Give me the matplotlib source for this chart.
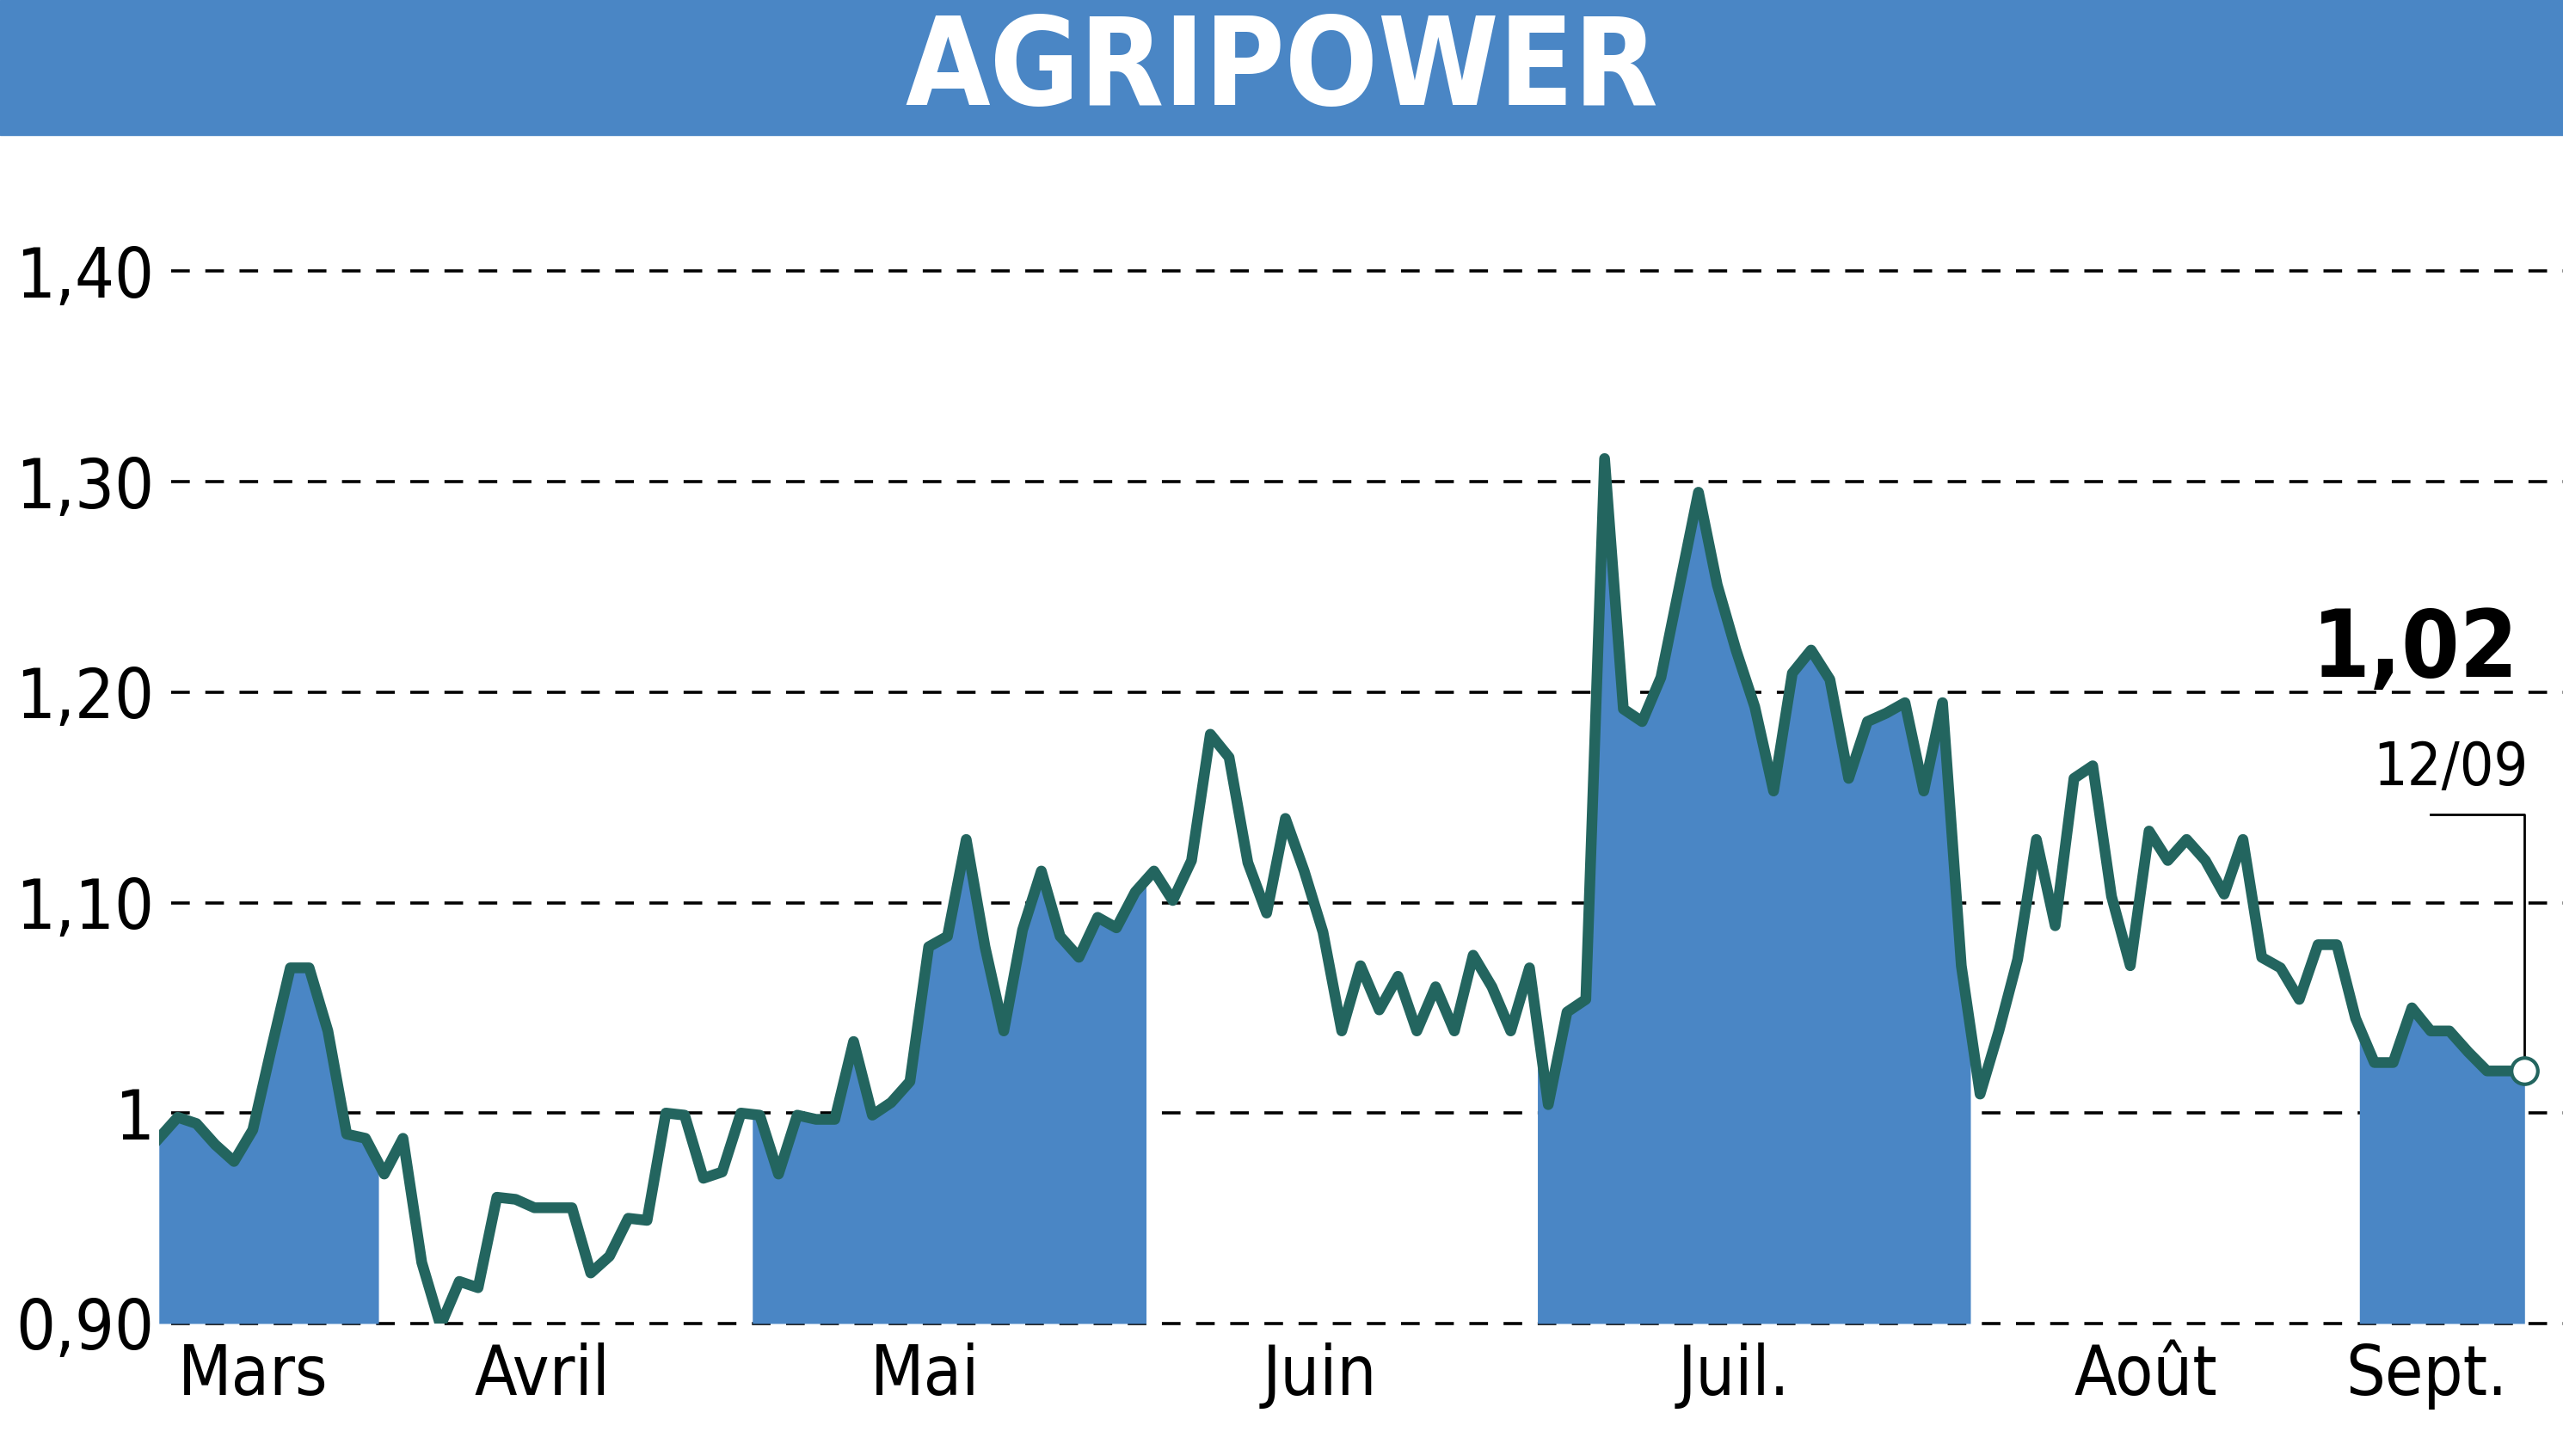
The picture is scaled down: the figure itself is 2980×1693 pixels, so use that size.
import numpy as np
import matplotlib
matplotlib.use("Agg")
import matplotlib.pyplot as plt

values = [0.988,0.998,0.995,0.985,0.977,0.992,1.031,1.069,1.069,1.039,0.990,0.988,0.971,0.988,0.929,0.899,0.920,0.917,
0.960,0.959,0.955,0.955,0.955,0.924,0.932,0.950,0.949,1.000,0.999,0.969,0.972,1.000,0.999,0.971,0.999,0.997,0.997,
1.034,0.999,1.005,1.015,1.079,1.084,1.130,1.079,1.039,1.087,1.115,1.084,1.074,1.093,1.088,1.105,1.115,1.101,1.120,
1.180,1.169,1.119,1.095,1.140,1.115,1.086,1.039,1.070,1.049,1.065,1.039,1.060,1.039,1.075,1.060,1.039,1.069,1.004,
1.048,1.054,1.311,1.192,1.186,1.207,1.251,1.295,1.251,1.220,1.193,1.153,1.209,1.220,1.206,1.159,1.186,1.190,1.195,
1.153,1.195,1.070,1.009,1.039,1.073,1.130,1.089,1.159,1.165,1.103,1.070,1.134,1.120,1.130,1.120,1.104,1.130,1.074,
1.069,1.054,1.080,1.080,1.045,1.024,1.024,1.050,1.039,1.039,1.029,1.020,1.020,1.020]
months = ["Mars","Avril","Mai","Juin","Juil.","Août","Sept."]
month_pos = [5.0,20.4,40.8,61.8,83.9,105.8,120.8]
bands = [(0,11.7),(31.6,52.6),(73.4,96.5),(117.2,len(values)-1)]
yticks = [0.90,1.00,1.10,1.20,1.30,1.40]
ylabels = ["0,90","1","1,10","1,20","1,30","1,40"]

FONT = "DejaVu Sans"
ST = "condensed"
BLUE = "#4a86c5"; LINE = "#23655f"

fig = plt.figure(figsize=(29.8,16.93), dpi=100)
fig.patches.append(plt.Rectangle((0,0.907),1,0.093,transform=fig.transFigure,color=BLUE))
fig.text(0.5,0.951,"AGRIPOWER",ha="center",va="center",color="white",fontsize=102,fontweight="bold",family=FONT,fontstretch=ST)

ax = fig.add_axes([0.062,0.091,0.923,0.795])
x = np.arange(len(values))
y = np.array(values)
ax.set_xlim(0,len(values)-1)
ax.set_ylim(0.90,1.45)
xf = np.linspace(0,len(values)-1,5000)
yf = np.interp(xf,x,y)
for a,b in bands:
    m = (xf>=a)&(xf<=b)
    ax.fill_between(xf[m],0.90,yf[m],color=BLUE,lw=0,zorder=1)
for t in yticks:
    ax.plot([0.005,1.08],[t,t],transform=ax.get_yaxis_transform(),ls=(0,(6,5)),color="black",lw=2.6,clip_on=False,zorder=0)
ax.plot(x,y,color=LINE,lw=9,zorder=3,solid_joinstyle="round")
ax.plot(x[-1],y[-1],"o",ms=22,mfc="white",mec=LINE,mew=3,zorder=4,clip_on=False)
for s in ax.spines.values(): s.set_visible(False)
ax.set_yticks(yticks); ax.set_yticklabels(ylabels,family=FONT,fontsize=58,fontstretch=ST)
ax.set_xticks(month_pos); ax.set_xticklabels(months,family=FONT,fontsize=58,fontstretch=ST)
ax.tick_params(length=0,pad=16)
ax.tick_params(axis="y",pad=4)
xl = len(values)-1
ax.text(xl-0.3,1.198,"1,02",ha="right",va="bottom",fontsize=78,fontweight="bold",family=FONT,fontstretch=ST)
ax.text(xl+0.2,1.150,"12/09",ha="right",va="bottom",fontsize=50,family=FONT,fontstretch=ST)
ax.plot([xl-5,xl,xl],[1.142,1.142,y[-1]],color="black",lw=2,zorder=2,clip_on=False)
fig.savefig("out.png",dpi=100)
